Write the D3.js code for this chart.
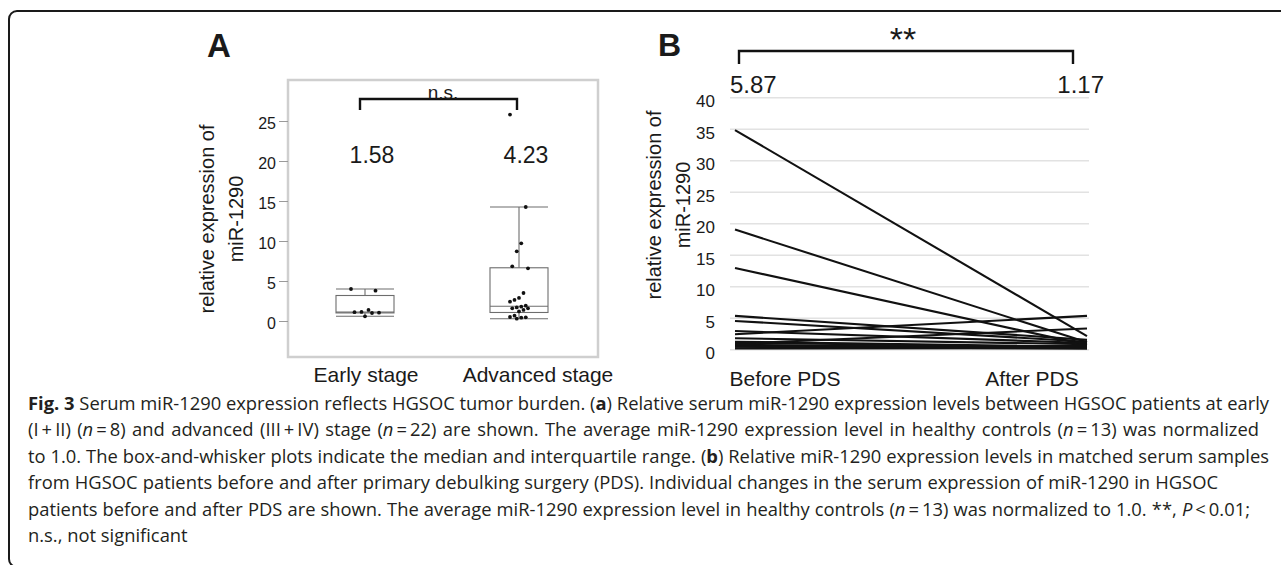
<!DOCTYPE html>
<html>
<head>
<meta charset="utf-8">
<script src="https://cdn.jsdelivr.net/npm/d3@7"></script>
<style>
body { margin: 0; background: #fff; }
svg { display: block; }
text { font-family: "Liberation Sans", Arial, Helvetica, sans-serif; fill: #1a1a1a; }
.cap { font-family: "Open Sans", "Noto Sans", sans-serif; font-size: 17px; fill: #231f20; }
</style>
</head>
<body>
<svg id="fig" width="1281" height="565"></svg>
<script>
// panel A - serum miR-1290 by stage
var stages = ["Early stage", "Advanced stage"];
var stageMeans = ["1.58", "4.23"];
var earlyVals = [4.0, 3.79, 1.38, 1.13, 1.10, 1.04, 1.0, 0.59];
var advancedVals = [25.8, 14.25, 9.71, 8.71, 6.84, 6.59, 3.5, 2.88, 2.63, 2.41, 1.91,
	1.79, 1.7, 1.59, 1.59, 1.38, 1.2, 0.66, 0.5, 0.46, 0.41, 0.29];
var ticksA = [0, 5, 10, 15, 20, 25];

// panel B - before / after PDS, one line per patient
var times = ["Before PDS", "After PDS"];
var timeMeans = ["5.87", "1.17"];
var beforeVals = [34.8, 19.0, 12.9, 5.3, 4.5, 2.9, 2.4, 1.75, 1.2, 1.05, 0.9, 0.7, 0.5, 0.4, 0.15];
var afterVals  = [2.1, 1.1, 0.7, 1.5, 1.2, 1.0, 5.3, 0.8, 0.4, 0.3, 3.3, 0.2, 0.5, 0.1, 0.2];
var ticksB = [0, 5, 10, 15, 20, 25, 30, 35, 40];

var capLines = [
	"[b]Fig. 3[/b] Serum miR-1290 expression reflects HGSOC tumor burden. ([b]a[/b]) Relative serum miR-1290 expression levels between HGSOC patients at early",
	"(I\u2009+\u2009II) ([i]n[/i]\u2009=\u20098) and advanced (III\u2009+\u2009IV) stage ([i]n[/i]\u2009=\u200922) are shown. The average miR-1290 expression level in healthy controls ([i]n[/i]\u2009=\u200913) was normalized",
	"to 1.0. The box-and-whisker plots indicate the median and interquartile range. ([b]b[/b]) Relative miR-1290 expression levels in matched serum samples",
	"from HGSOC patients before and after primary debulking surgery (PDS). Individual changes in the serum expression of miR-1290 in HGSOC",
	"patients before and after PDS are shown. The average miR-1290 expression level in healthy controls ([i]n[/i]\u2009=\u200913) was normalized to 1.0. **, [i]P[/i]\u2009<\u20090.01;",
	"n.s., not significant"
];

var svg = d3.select("#fig");

// outer figure frame (rounded corners on the left)
svg.append("path")
	.attr("d", "M1285,11 H17 A8,8 0 0 0 9,19 V559 A8,8 0 0 0 17,567 H1285")
	.attr("fill", "none")
	.attr("stroke", "#1a1a1a")
	.attr("stroke-width", 2);

// ---------------- panel A ----------------
var yA = d3.scaleLinear().domain([0, 25]).range([321, 121]);
var xA = d3.scalePoint().domain(stages).range([365, 519]);
var xLabA = d3.scalePoint().domain(stages).range([366, 538]);
var box_half = 29;

svg.append("text")
	.attr("x", 207).attr("y", 57)
	.style("font-size", "33px").style("font-weight", "bold")
	.text("A");

svg.append("rect")
	.attr("x", 288).attr("y", 80)
	.attr("width", 310).attr("height", 277)
	.attr("fill", "none")
	.attr("stroke", "#cfcfcf")
	.attr("stroke-width", 2.5);

var axA = svg.append("g")
	.attr("transform", "translate(288,0)")
	.call(d3.axisLeft(yA).tickValues(ticksA).tickSize(9).tickPadding(3));
axA.select(".domain").remove();
axA.selectAll("line").attr("stroke", "#9a9a9a");
axA.selectAll("text")
	.attr("font-family", "Liberation Sans, Arial, sans-serif")
	.style("font-size", "16px")
	.attr("fill", "#1a1a1a")
	.attr("dy", "0.45em");

// y label, two lines
[["relative expression of", 214], ["miR-1290", 243]].forEach(function(d){
	svg.append("text")
		.attr("transform", "translate(" + d[1] + ",219) rotate(-90)")
		.attr("text-anchor", "middle")
		.style("font-size", "20px")
		.text(d[0]);
});

// quartiles the JMP way: position (n+1)p
function quant(sorted, p){
	var h = (sorted.length + 1) * p - 1;
	if (h <= 0) return sorted[0];
	if (h >= sorted.length - 1) return sorted[sorted.length - 1];
	var lo = Math.floor(h);
	return sorted[lo] + (h - lo) * (sorted[lo + 1] - sorted[lo]);
}

[earlyVals, advancedVals].forEach(function(vals, k){
	var cat = stages[k], cx = xA(cat);
	var s = vals.slice().sort(d3.ascending);
	var q1 = quant(s, 0.25), med = quant(s, 0.5), q3 = quant(s, 0.75);
	var iqr = q3 - q1;
	var hi = d3.max(s.filter(function(v){ return v <= q3 + 1.5 * iqr; }));
	var lo = d3.min(s.filter(function(v){ return v >= q1 - 1.5 * iqr; }));
	var g = svg.append("g").attr("stroke", "#6d6d6d").attr("stroke-width", 1.1).attr("fill", "none");

	g.append("rect")
		.attr("x", cx - box_half).attr("width", box_half * 2)
		.attr("y", yA(q3)).attr("height", yA(q1) - yA(q3));
	g.append("line")
		.attr("x1", cx - box_half).attr("x2", cx + box_half)
		.attr("y1", yA(med)).attr("y2", yA(med));
	// whiskers + caps
	g.append("line").attr("x1", cx).attr("x2", cx).attr("y1", yA(q3)).attr("y2", yA(hi));
	g.append("line").attr("x1", cx).attr("x2", cx).attr("y1", yA(q1)).attr("y2", yA(lo));
	g.selectAll(".cap-line")
		.data([hi, lo])
	.enter().append("line")
		.attr("x1", cx - box_half).attr("x2", cx + box_half)
		.attr("y1", function(d){ return yA(d); })
		.attr("y2", function(d){ return yA(d); });

	// points with a fixed small jitter
	var spread = k == 0 ? 14 : 9;
	svg.selectAll(".pt" + k)
		.data(vals)
	.enter().append("circle")
		.attr("cx", function(d, i){ return cx + ((i * 7) % 9 - 4) / 4 * spread; })
		.attr("cy", function(d){ return yA(d); })
		.attr("r", 1.9)
		.attr("fill", "#111");

	svg.append("text")
		.attr("x", cx + 7).attr("y", 163)
		.attr("text-anchor", "middle")
		.style("font-size", "23px")
		.text(stageMeans[k]);

	svg.append("text")
		.attr("x", xLabA(cat)).attr("y", 382)
		.attr("text-anchor", "middle")
		.style("font-size", "21px")
		.text(cat);
});

// n.s. bracket
svg.append("path")
	.attr("d", "M360,110 V99 H517 V110")
	.attr("fill", "none").attr("stroke", "#111").attr("stroke-width", 2.4);
svg.append("text")
	.attr("x", 443).attr("y", 99)
	.attr("text-anchor", "middle")
	.style("font-size", "19px")
	.text("n.s.");

// ---------------- panel B ----------------
var yB = d3.scaleLinear().domain([0, 40]).range([349.3, 97.3]);
var xB = d3.scalePoint().domain(times).range([735, 1087]);
var xLabB = d3.scalePoint().domain(times).range([785, 1032]);

svg.append("text")
	.attr("x", 658).attr("y", 56)
	.style("font-size", "32px").style("font-weight", "bold")
	.text("B");

var axB = svg.append("g")
	.attr("transform", "translate(730,0)")
	.call(d3.axisLeft(yB).tickValues(ticksB).tickSize(-359).tickPadding(15));
axB.select(".domain").remove();
axB.selectAll("line").attr("stroke", "#e2e2e2").attr("stroke-width", 1.6);
axB.selectAll("text")
	.attr("font-family", "Liberation Sans, Arial, sans-serif")
	.style("font-size", "17px")
	.attr("fill", "#1a1a1a")
	.attr("dy", "0.55em");

[["relative expression of", 661], ["miR-1290", 690]].forEach(function(d){
	svg.append("text")
		.attr("transform", "translate(" + d[1] + ",205) rotate(-90)")
		.attr("text-anchor", "middle")
		.style("font-size", "20px")
		.text(d[0]);
});

var pairs = beforeVals.map(function(b, i){ return [b, afterVals[i]]; });
svg.append("g").selectAll("line")
	.data(pairs)
.enter().append("line")
	.attr("x1", xB(times[0])).attr("x2", xB(times[1]))
	.attr("y1", function(d){ return yB(d[0]); })
	.attr("y2", function(d){ return yB(d[1]); })
	.attr("stroke", "#111")
	.attr("stroke-width", 2.1);

svg.append("text").attr("x", 730).attr("y", 93)
	.style("font-size", "24px").text(timeMeans[0]);
svg.append("text").attr("x", 1104).attr("y", 93)
	.attr("text-anchor", "end")
	.style("font-size", "24px").text(timeMeans[1]);

times.forEach(function(t){
	svg.append("text")
		.attr("x", xLabB(t)).attr("y", 386)
		.attr("text-anchor", "middle")
		.style("font-size", "21px")
		.text(t);
});

svg.append("path")
	.attr("d", "M739,64 V51 H1073 V64")
	.attr("fill", "none").attr("stroke", "#111").attr("stroke-width", 2.4);
svg.append("text")
	.attr("x", 903).attr("y", 51)
	.attr("text-anchor", "middle")
	.style("font-size", "34px")
	.text("**");

// ---------------- caption ----------------
var capRight = [1269, 1259, 1269, 1218, 1250, null];
var cap_x = 28;

var capNodes = capLines.map(function(line, i){
	var t = svg.append("text")
		.attr("class", "cap")
		.attr("x", cap_x)
		.attr("y", 410 + i * 26.4);
	line.split(/(\[b\].*?\[\/b\]|\[i\].*?\[\/i\])/).forEach(function(seg){
		if (seg == "") return;
		var ts = t.append("tspan");
		if (seg.indexOf("[b]") == 0) {
			ts.style("font-weight", "bold").text(seg.slice(3, -4));
		} else if (seg.indexOf("[i]") == 0) {
			ts.style("font-style", "italic").text(seg.slice(3, -4));
		} else {
			ts.text(seg);
		}
	});
	return t;
});

// fit font size on the first line, then nudge word spacing per line
var w0 = capNodes[0].node().getComputedTextLength();
var fs = 17 * (capRight[0] - cap_x) / w0;
capNodes.forEach(function(t){ t.style("font-size", fs + "px"); });
capNodes.forEach(function(t, i){
	if (capRight[i] == null) return;
	var w = t.node().getComputedTextLength();
	var spaces = (capLines[i].match(/ /g) || []).length;
	t.style("word-spacing", ((capRight[i] - cap_x - w) / spaces) + "px");
});
</script>
</body>
</html>
